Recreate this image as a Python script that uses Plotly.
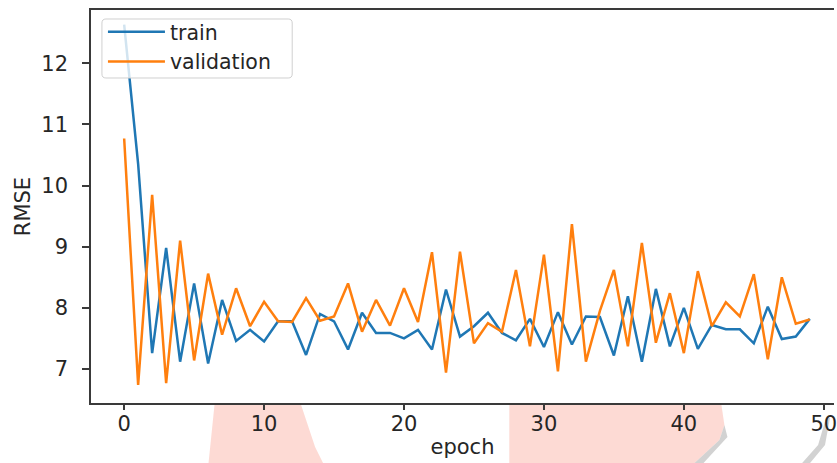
import plotly.graph_objects as go

epochs = list(range(50))
train = [12.63, 10.35, 7.26, 8.98, 7.12, 8.40, 7.09, 8.13, 7.46, 7.64,
         7.45, 7.78, 7.78, 7.23, 7.90, 7.78, 7.32, 7.92, 7.59, 7.59,
         7.50, 7.64, 7.32, 8.30, 7.53, 7.70, 7.92, 7.59, 7.47, 7.82,
         7.36, 7.93, 7.40, 7.86, 7.85, 7.22, 8.19, 7.12, 8.31, 7.37,
         8.00, 7.33, 7.72, 7.65, 7.65, 7.42, 8.02, 7.49, 7.53, 7.82]
validation = [10.77, 6.74, 9.85, 6.77, 9.10, 7.14, 8.56, 7.56, 8.32, 7.70,
              8.10, 7.78, 7.77, 8.16, 7.79, 7.86, 8.40, 7.61, 8.13, 7.71,
              8.32, 7.77, 8.91, 6.94, 8.92, 7.42, 7.75, 7.61, 8.62, 7.37,
              8.87, 6.96, 9.37, 7.12, 7.95, 8.62, 7.37, 9.06, 7.43, 8.24,
              7.26, 8.60, 7.70, 8.09, 7.86, 8.55, 7.16, 8.50, 7.74, 7.81]
x_ticks = [0, 10, 20, 30, 40, 50]
y_ticks = [7, 8, 9, 10, 11, 12]

W, H = 837, 463
ML, MR, MT, MB = 91, 0, 10, 60
PW, PH = W - ML - MR, H - MT - MB


def px(x, y):
    return (x - ML) / PW, (H - MB - y) / PH


def path(points):
    parts = []
    for cmd, *coords in points:
        if cmd == "Z":
            parts.append("Z")
        else:
            xy = []
            for i in range(0, len(coords), 2):
                a, b = px(coords[i], coords[i + 1])
                xy.append(f"{a:.4f},{b:.4f}")
            parts.append(cmd + " " + " ".join(xy))
    return " ".join(parts)


font_family = "DejaVu Sans, sans-serif"
text_color = "#262626"
axis_color = "#3a3a3a"
FS = 21
LFS = 20.5

fig = go.Figure()
fig.add_trace(go.Scatter(x=epochs, y=train, mode="lines", name="train",
                         line=dict(color="#1f77b4", width=2.5)))
fig.add_trace(go.Scatter(x=epochs, y=validation, mode="lines", name="validation",
                         line=dict(color="#ff7f0e", width=2.5)))

pink = "rgba(252,205,198,0.75)"
gray = "rgba(195,195,195,0.75)"
# legend frame (rounded box), matplotlib style
lx0, lx1, ly0, ly1, r = 102, 293, 19, 78, 4
legend_box = path([("M", lx0 + r, ly0), ("L", lx1 - r, ly0), ("Q", lx1, ly0, lx1, ly0 + r),
                   ("L", lx1, ly1 - r), ("Q", lx1, ly1, lx1 - r, ly1), ("L", lx0 + r, ly1),
                   ("Q", lx0, ly1, lx0, ly1 - r), ("L", lx0, ly0 + r), ("Q", lx0, ly0, lx0 + r, ly0), ("Z",)])
shapes = [
    dict(type="path", xref="paper", yref="paper", layer="below", line=dict(width=0), fillcolor=pink,
         path=path([("M", 215, 405), ("L", 302, 405), ("L", 316, 447), ("L", 324, 463), ("L", 209, 463), ("Z",)])),
    dict(type="path", xref="paper", yref="paper", layer="below", line=dict(width=0), fillcolor=pink,
         path=path([("M", 511, 405), ("L", 724, 405), ("L", 727, 425), ("L", 722, 440), ("L", 697, 463), ("L", 511, 463), ("Z",)])),
    dict(type="path", xref="paper", yref="paper", layer="below", line=dict(width=0), fillcolor=gray,
         path=path([("M", 727, 425), ("L", 730, 437), ("L", 706, 463), ("L", 697, 463), ("L", 722, 440), ("Z",)])),
    dict(type="path", xref="paper", yref="paper", layer="below", line=dict(width=0), fillcolor=gray,
         path=path([("M", 833, 418), ("L", 828, 445), ("L", 813, 463), ("L", 805, 463), ("L", 821, 445), ("L", 829, 418), ("Z",)])),
    dict(type="path", xref="paper", yref="paper", layer="above",
         line=dict(width=1, color="#d0d0d0"), fillcolor="rgba(255,255,255,0.8)", path=legend_box),
]

fig.update_layout(
    width=W, height=H,
    margin=dict(l=ML, r=MR, t=MT, b=MB, pad=0),
    paper_bgcolor="white", plot_bgcolor="white",
    font=dict(family=font_family, size=FS, color=text_color),
    showlegend=True,
    legend=dict(x=(103 - ML) / PW, y=1.0 - 2 / PH, xanchor="left", yanchor="top",
                bgcolor="rgba(0,0,0,0)", borderwidth=0, itemwidth=57,
                font=dict(size=LFS, color=text_color), tracegroupgap=0),
    shapes=shapes,
)
fig.update_xaxes(
    range=[-2.37, 50.73], tickvals=x_ticks, ticktext=[str(v) for v in x_ticks],
    ticklabeloverflow="allow", ticklabelstandoff=-4,
    showgrid=False, zeroline=False, showline=True, mirror=True, linecolor=axis_color, linewidth=1.5,
    ticks="outside", ticklen=5, tickwidth=1.5, tickcolor=axis_color,
    tickfont=dict(size=FS, color=text_color),
    title=dict(text="epoch", font=dict(size=FS, color=text_color), standoff=4),
)
fig.update_yaxes(
    range=[6.444, 12.871], tickvals=y_ticks, ticktext=[str(v) for v in y_ticks],
    showgrid=False, zeroline=False, showline=True, mirror=False, linecolor=axis_color, linewidth=1.5,
    ticks="outside", ticklen=7, tickwidth=1.5, tickcolor=axis_color, ticklabelstandoff=10,
    tickfont=dict(size=FS, color=text_color),
    title=dict(text="RMSE", font=dict(size=FS, color=text_color), standoff=5),
)

fig.write_html("out.html")
